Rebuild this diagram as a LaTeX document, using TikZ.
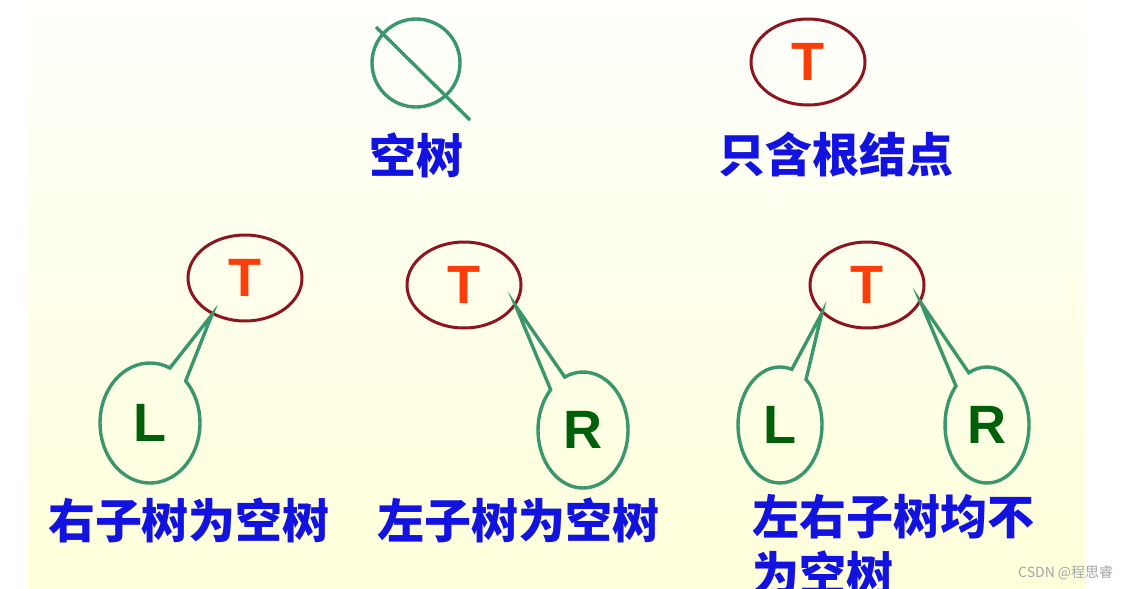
\documentclass[tikz,border=0pt]{standalone}
\usepackage{fontspec}
\newfontfamily\cjk{Noto Sans CJK SC}
\newfontfamily\latin{Liberation Sans}
\usetikzlibrary{shapes.geometric,shapes.callouts}
\definecolor{treegreen}{RGB}{58,150,108}
\definecolor{rootred}{RGB}{140,22,32}
\definecolor{letterred}{RGB}{250,62,10}
\definecolor{letgreen}{RGB}{0,96,10}
\definecolor{lblblue}{RGB}{18,18,225}
\definecolor{paperlo}{RGB}{255,255,218}
\definecolor{paperhi}{RGB}{255,255,252}

\begin{document}
\begin{tikzpicture}[x=1pt,y=-1pt,
  root/.style={ellipse,draw=rootred,line width=3pt,minimum width=114pt,minimum height=86pt,
    inner sep=0pt,text=letterred,font=\latin\bfseries\fontsize{54}{54}\selectfont},
  subtree/.style={ellipse callout,draw=treegreen,line width=3.4pt,minimum width=88pt,minimum height=116pt,
    callout pointer arc=22,inner sep=0pt,text=letgreen,font=\latin\bfseries\fontsize{54}{54}\selectfont},
  lbl/.style={text=lblblue,font=\cjk\bfseries\fontsize{47}{57}\selectfont,inner sep=0pt}]
  \useasboundingbox (0,0) rectangle (1133,589);
  \clip (0,0) rectangle (1133,589);
  \fill[white] (0,0) rectangle (1133,589);
  \shade[top color=paperhi,bottom color=paperlo] (28,0) rectangle (1085,589);

  % empty tree
  \node[circle,draw=treegreen,line width=3.4pt,minimum size=88pt,inner sep=0pt] (empty) at (416,63) {};
  \coordinate (cutA) at (376,27);
  \coordinate (cutB) at (470,120);
  \draw[treegreen,line width=3.4pt] (cutA) -- (cutB);
  \node[lbl] (emptylbl) at (416,155) {空树};

  % root only
  \node[root] (t0) at (808,62) {T};
  \node[lbl] (t0lbl) at (836,155) {只含根结点};

  % right subtree empty
  \node[root] (t1) at (245,278) {T};
  \node[subtree,minimum width=100pt,minimum height=120pt,callout absolute pointer={(t1.-132)}] (l1) at (150,423) {L};
  \node[lbl] (t1lbl) at (189,520) {右子树为空树};

  % left subtree empty
  \node[root] (t2) at (464,285) {T};
  \node[subtree,minimum width=90pt,callout absolute pointer={(t2.-22)}] (r2) at (583,430) {R};
  \node[lbl] (t2lbl) at (518,520) {左子树为空树};

  % both subtrees
  \node[root] (t3) at (867,285) {T};
  \node[subtree,minimum width=84pt,callout absolute pointer={(t3.-148)}] (l3) at (780,425) {L};
  \node[subtree,minimum width=84pt,callout absolute pointer={(t3.-18)}] (r3) at (987,425) {R};
  \node[lbl,anchor=north west,align=left] (t3lbl) at (752,494) {左右子树均不\\为空树};

  \node[text=black!35,font=\cjk\fontsize{14}{14}\selectfont,anchor=west,inner sep=0pt] (mark) at (1018,573) {CSDN @程思睿};
\end{tikzpicture}
\end{document}
